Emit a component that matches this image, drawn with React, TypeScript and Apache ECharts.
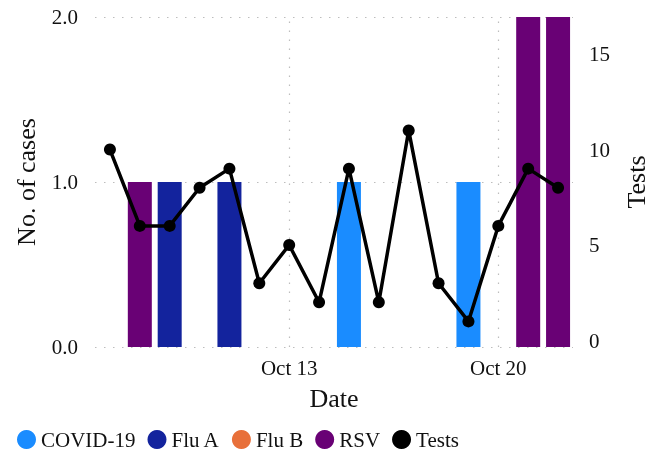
import React, { useEffect, useRef } from "react";
import * as echarts from "echarts";

const dates = ["Oct 7","Oct 8","Oct 9","Oct 10","Oct 11","Oct 12","Oct 13","Oct 14","Oct 15","Oct 16","Oct 17","Oct 18","Oct 19","Oct 20","Oct 21","Oct 22"];
const labelledDates = ["Oct 13", "Oct 20"];
const covid = [0,0,0,0,0,0,0,0,1,0,0,0,1,0,0,0];
const fluA = [0,0,1,0,1,0,0,0,0,0,0,0,0,0,0,0];
const fluB = [0,0,0,0,0,0,0,0,0,0,0,0,0,0,0,0];
const rsv = [0,1,0,0,0,0,0,0,0,0,0,0,0,0,2,2];
const tests = [10,6,6,8,9,3,5,2,9,2,11,3,1,6,9,8];
const leftTicks = [0, 1, 2];
const rightTicks = [0, 5, 10, 15];

const FONT = "Liberation Serif";
const TXT = "#111";
const GRID = "#bdbdbd";

export default function App() {
  const ref = useRef<HTMLDivElement>(null);
  useEffect(() => {
    if (!ref.current) return;
    const chart = echarts.init(ref.current, undefined, { renderer: "svg" });
    const barSeries = (name: string, data: number[], color: string) => ({
      name,
      type: "bar",
      stack: "cases",
      data,
      barWidth: 24,
      itemStyle: { color },
      yAxisIndex: 0,
    });
    chart.setOption({
      animation: false,
      textStyle: { fontFamily: FONT, color: TXT },
      grid: { left: 95, right: 80, top: 17, bottom: 107 },
      legend: {
        left: 12,
        top: 424,
        icon: "circle",
        itemWidth: 19,
        itemHeight: 19,
        itemGap: 12,
        textStyle: { fontFamily: FONT, fontSize: 21, color: TXT },
        data: ["COVID-19", "Flu A", "Flu B", "RSV", "Tests"],
      },
      xAxis: {
        type: "category",
        data: dates,
        name: "Date",
        nameLocation: "middle",
        nameGap: 38,
        nameTextStyle: { fontFamily: FONT, fontSize: 26, color: TXT },
        axisLine: { show: false },
        axisTick: { show: false },
        splitLine: { show: false },
        axisLabel: {
          interval: (_i: number, v: string) => labelledDates.includes(v),
          fontFamily: FONT,
          fontSize: 21,
          color: TXT,
          margin: 10,
        },
      },
      yAxis: [
        {
          type: "value",
          min: leftTicks[0],
          max: leftTicks[leftTicks.length - 1],
          interval: 1,
          name: "No. of cases",
          nameLocation: "middle",
          nameGap: 56,
          nameTextStyle: { fontFamily: FONT, fontSize: 26, color: TXT },
          axisLine: { show: false },
          axisTick: { show: false },
          axisLabel: {
            formatter: (v: number) => v.toFixed(1),
            fontFamily: FONT,
            fontSize: 21,
            color: TXT,
            margin: 17,
          },
          splitLine: { show: true, lineStyle: { color: GRID, type: [1.5, 7.5], width: 1.2 } },
        },
        {
          type: "value",
          min: -0.34,
          max: 16.94,
          name: "Tests",
          nameLocation: "middle",
          nameGap: 50,
          nameTextStyle: { fontFamily: FONT, fontSize: 26, color: TXT },
          axisLine: { show: false },
          axisTick: { show: false },
          splitLine: { show: false },
          axisLabel: {
            customValues: rightTicks,
            fontFamily: FONT,
            fontSize: 21,
            color: TXT,
            margin: 16,
          },
        },
      ],
      series: [
        barSeries("COVID-19", covid, "#1a8cff"),
        barSeries("Flu A", fluA, "#13239d"),
        barSeries("Flu B", fluB, "#e8703a"),
        barSeries("RSV", rsv, "#690175"),
        {
          name: "Tests",
          type: "line",
          yAxisIndex: 1,
          data: tests,
          symbol: "circle",
          symbolSize: 12,
          itemStyle: { color: "#000" },
          lineStyle: { color: "#000", width: 3.5 },
          z: 5,
          markLine: {
            silent: true,
            symbol: "none",
            label: { show: false },
            lineStyle: { color: GRID, type: [1.5, 7.5], width: 1.2 },
            z: 0,
            data: labelledDates.map((d) => ({ xAxis: d })),
          },
        },
      ],
    });
    return () => chart.dispose();
  }, []);
  return (
    <div
      ref={ref}
      style={{ position: "fixed", left: 0, top: 0, width: 657, height: 454 }}
    />
  );
}
